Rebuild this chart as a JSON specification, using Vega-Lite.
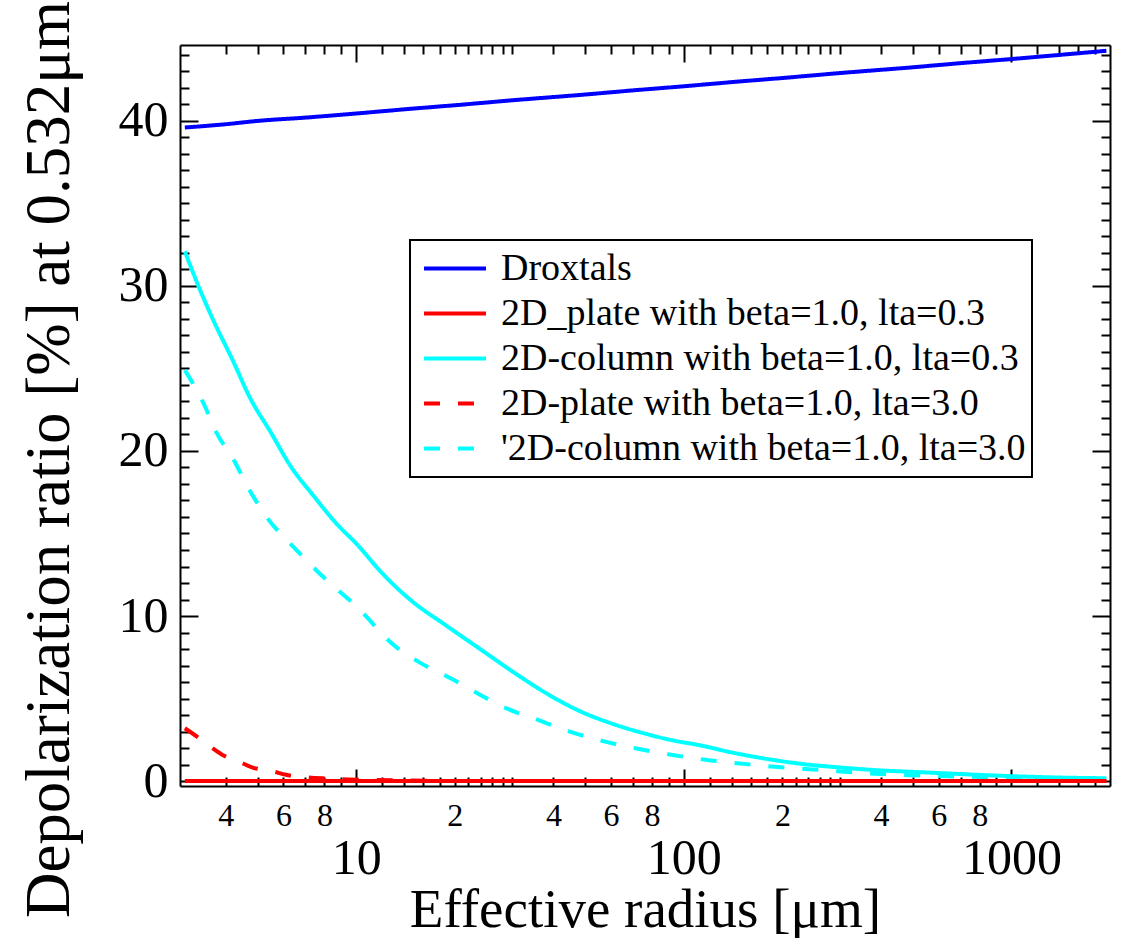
{
  "$schema": "https://vega.github.io/schema/vega-lite/v6.json",
  "width": 930,
  "height": 741,
  "autosize": {"type": "none"},
  "padding": {"left": 180, "top": 45, "right": 13, "bottom": 152},
  "background": "white",
  "config": {
    "view": {"stroke": null},
    "font": "Liberation Serif",
    "legend": {"strokeWidth": 2},
    "axis": {"grid": false, "domainColor": "black", "domainWidth": 2, "tickColor": "black", "tickWidth": 2, "labelColor": "black", "titleColor": "black", "labelFont": "Liberation Serif", "titleFont": "Liberation Serif", "labelFontWeight": "normal", "titleFontWeight": "normal"}
  },
  "data": {"values": [
    {"series": "'2D-column with beta=1.0, lta=3.0", "r": 3.0, "dep": 24.9},
    {"series": "'2D-column with beta=1.0, lta=3.0", "r": 3.42, "dep": 22.9},
    {"series": "'2D-column with beta=1.0, lta=3.0", "r": 3.75, "dep": 21.1},
    {"series": "'2D-column with beta=1.0, lta=3.0", "r": 4.22, "dep": 19.5},
    {"series": "'2D-column with beta=1.0, lta=3.0", "r": 4.69, "dep": 17.75},
    {"series": "'2D-column with beta=1.0, lta=3.0", "r": 5.33, "dep": 16.0},
    {"series": "'2D-column with beta=1.0, lta=3.0", "r": 6.5, "dep": 14.1},
    {"series": "'2D-column with beta=1.0, lta=3.0", "r": 8.0, "dep": 12.3},
    {"series": "'2D-column with beta=1.0, lta=3.0", "r": 10.0, "dep": 10.6},
    {"series": "'2D-column with beta=1.0, lta=3.0", "r": 13.1, "dep": 8.2},
    {"series": "'2D-column with beta=1.0, lta=3.0", "r": 15.7, "dep": 7.16},
    {"series": "'2D-column with beta=1.0, lta=3.0", "r": 19.3, "dep": 6.26},
    {"series": "'2D-column with beta=1.0, lta=3.0", "r": 23.3, "dep": 5.35},
    {"series": "'2D-column with beta=1.0, lta=3.0", "r": 28.5, "dep": 4.44},
    {"series": "'2D-column with beta=1.0, lta=3.0", "r": 35.6, "dep": 3.73},
    {"series": "'2D-column with beta=1.0, lta=3.0", "r": 44.4, "dep": 3.03},
    {"series": "'2D-column with beta=1.0, lta=3.0", "r": 56.7, "dep": 2.42},
    {"series": "'2D-column with beta=1.0, lta=3.0", "r": 72.4, "dep": 1.96},
    {"series": "'2D-column with beta=1.0, lta=3.0", "r": 93.6, "dep": 1.56},
    {"series": "'2D-column with beta=1.0, lta=3.0", "r": 121, "dep": 1.25},
    {"series": "'2D-column with beta=1.0, lta=3.0", "r": 158, "dep": 1.01},
    {"series": "'2D-column with beta=1.0, lta=3.0", "r": 207, "dep": 0.81},
    {"series": "'2D-column with beta=1.0, lta=3.0", "r": 271, "dep": 0.65},
    {"series": "'2D-column with beta=1.0, lta=3.0", "r": 364, "dep": 0.47},
    {"series": "'2D-column with beta=1.0, lta=3.0", "r": 490, "dep": 0.35},
    {"series": "'2D-column with beta=1.0, lta=3.0", "r": 700, "dep": 0.27},
    {"series": "'2D-column with beta=1.0, lta=3.0", "r": 1000, "dep": 0.2},
    {"series": "'2D-column with beta=1.0, lta=3.0", "r": 1400, "dep": 0.15},
    {"series": "'2D-column with beta=1.0, lta=3.0", "r": 1950, "dep": 0.12},
    {"series": "2D-plate with beta=1.0, lta=3.0", "r": 3.0, "dep": 3.2},
    {"series": "2D-plate with beta=1.0, lta=3.0", "r": 3.29, "dep": 2.65},
    {"series": "2D-plate with beta=1.0, lta=3.0", "r": 3.58, "dep": 2.1},
    {"series": "2D-plate with beta=1.0, lta=3.0", "r": 3.9, "dep": 1.6},
    {"series": "2D-plate with beta=1.0, lta=3.0", "r": 4.36, "dep": 1.2},
    {"series": "2D-plate with beta=1.0, lta=3.0", "r": 4.81, "dep": 0.83},
    {"series": "2D-plate with beta=1.0, lta=3.0", "r": 5.54, "dep": 0.6},
    {"series": "2D-plate with beta=1.0, lta=3.0", "r": 6.11, "dep": 0.38},
    {"series": "2D-plate with beta=1.0, lta=3.0", "r": 7.08, "dep": 0.22},
    {"series": "2D-plate with beta=1.0, lta=3.0", "r": 8.18, "dep": 0.15},
    {"series": "2D-plate with beta=1.0, lta=3.0", "r": 9.45, "dep": 0.1},
    {"series": "2D-plate with beta=1.0, lta=3.0", "r": 10.8, "dep": 0.07},
    {"series": "2D-plate with beta=1.0, lta=3.0", "r": 15, "dep": 0.03},
    {"series": "2D-plate with beta=1.0, lta=3.0", "r": 20, "dep": 0.0},
    {"series": "2D-plate with beta=1.0, lta=3.0", "r": 100, "dep": 0.0},
    {"series": "2D-plate with beta=1.0, lta=3.0", "r": 1000, "dep": 0.0},
    {"series": "2D-plate with beta=1.0, lta=3.0", "r": 1950, "dep": 0.0},
    {"series": "2D-column with beta=1.0, lta=0.3", "r": 3.0, "dep": 32.1},
    {"series": "2D-column with beta=1.0, lta=0.3", "r": 3.3, "dep": 30.0},
    {"series": "2D-column with beta=1.0, lta=0.3", "r": 3.65, "dep": 28.0},
    {"series": "2D-column with beta=1.0, lta=0.3", "r": 4.2, "dep": 25.5},
    {"series": "2D-column with beta=1.0, lta=0.3", "r": 4.75, "dep": 23.2},
    {"series": "2D-column with beta=1.0, lta=0.3", "r": 5.5, "dep": 21.1},
    {"series": "2D-column with beta=1.0, lta=0.3", "r": 6.3, "dep": 19.1},
    {"series": "2D-column with beta=1.0, lta=0.3", "r": 7.4, "dep": 17.3},
    {"series": "2D-column with beta=1.0, lta=0.3", "r": 8.8, "dep": 15.5},
    {"series": "2D-column with beta=1.0, lta=0.3", "r": 10, "dep": 14.4},
    {"series": "2D-column with beta=1.0, lta=0.3", "r": 12, "dep": 12.6},
    {"series": "2D-column with beta=1.0, lta=0.3", "r": 14.6, "dep": 11.0},
    {"series": "2D-column with beta=1.0, lta=0.3", "r": 18.9, "dep": 9.4},
    {"series": "2D-column with beta=1.0, lta=0.3", "r": 23.9, "dep": 8.0},
    {"series": "2D-column with beta=1.0, lta=0.3", "r": 30.2, "dep": 6.6},
    {"series": "2D-column with beta=1.0, lta=0.3", "r": 38.2, "dep": 5.3},
    {"series": "2D-column with beta=1.0, lta=0.3", "r": 48, "dep": 4.25},
    {"series": "2D-column with beta=1.0, lta=0.3", "r": 61, "dep": 3.45},
    {"series": "2D-column with beta=1.0, lta=0.3", "r": 77, "dep": 2.85},
    {"series": "2D-column with beta=1.0, lta=0.3", "r": 95, "dep": 2.42},
    {"series": "2D-column with beta=1.0, lta=0.3", "r": 110, "dep": 2.2},
    {"series": "2D-column with beta=1.0, lta=0.3", "r": 141, "dep": 1.72},
    {"series": "2D-column with beta=1.0, lta=0.3", "r": 182, "dep": 1.32},
    {"series": "2D-column with beta=1.0, lta=0.3", "r": 236, "dep": 1.01},
    {"series": "2D-column with beta=1.0, lta=0.3", "r": 305, "dep": 0.81},
    {"series": "2D-column with beta=1.0, lta=0.3", "r": 394, "dep": 0.65},
    {"series": "2D-column with beta=1.0, lta=0.3", "r": 509, "dep": 0.55},
    {"series": "2D-column with beta=1.0, lta=0.3", "r": 658, "dep": 0.45},
    {"series": "2D-column with beta=1.0, lta=0.3", "r": 850, "dep": 0.35},
    {"series": "2D-column with beta=1.0, lta=0.3", "r": 1100, "dep": 0.27},
    {"series": "2D-column with beta=1.0, lta=0.3", "r": 1420, "dep": 0.21},
    {"series": "2D-column with beta=1.0, lta=0.3", "r": 1950, "dep": 0.17},
    {"series": "2D_plate with beta=1.0, lta=0.3", "r": 3.0, "dep": 0.0},
    {"series": "2D_plate with beta=1.0, lta=0.3", "r": 10, "dep": 0.0},
    {"series": "2D_plate with beta=1.0, lta=0.3", "r": 100, "dep": 0.0},
    {"series": "2D_plate with beta=1.0, lta=0.3", "r": 1000, "dep": 0.0},
    {"series": "2D_plate with beta=1.0, lta=0.3", "r": 1950, "dep": 0.0},
    {"series": "Droxtals", "r": 3.0, "dep": 39.6},
    {"series": "Droxtals", "r": 4, "dep": 39.8},
    {"series": "Droxtals", "r": 5, "dep": 40.0},
    {"series": "Droxtals", "r": 7, "dep": 40.2},
    {"series": "Droxtals", "r": 10, "dep": 40.45},
    {"series": "Droxtals", "r": 15, "dep": 40.75},
    {"series": "Droxtals", "r": 20, "dep": 40.95},
    {"series": "Droxtals", "r": 30, "dep": 41.25},
    {"series": "Droxtals", "r": 50, "dep": 41.6},
    {"series": "Droxtals", "r": 70, "dep": 41.85},
    {"series": "Droxtals", "r": 100, "dep": 42.1},
    {"series": "Droxtals", "r": 150, "dep": 42.4},
    {"series": "Droxtals", "r": 200, "dep": 42.6},
    {"series": "Droxtals", "r": 300, "dep": 42.9},
    {"series": "Droxtals", "r": 500, "dep": 43.25},
    {"series": "Droxtals", "r": 700, "dep": 43.5},
    {"series": "Droxtals", "r": 1000, "dep": 43.75},
    {"series": "Droxtals", "r": 1500, "dep": 44.05},
    {"series": "Droxtals", "r": 1950, "dep": 44.25}
  ]},
  "layer": [
    {
      "mark": {"type": "line", "strokeWidth": 4, "clip": true, "interpolate": "monotone"},
      "encoding": {
        "x": {
          "field": "r", "type": "quantitative",
          "scale": {"type": "log", "domain": [2.9, 2000], "nice": false},
          "axis": {
            "orient": "bottom",
            "values": [4,5,6,7,8,9,10,12,14,16,18,20,22,24,26,28,30,40,50,60,70,80,90,100,120,140,160,180,200,220,240,260,280,300,400,500,600,700,800,900,1000,1200,1400,1600,1800],
            "labelExpr": "indexof([10,100,1000], datum.value) >= 0 ? toString(datum.value) : (indexof([4,6,8,20,40,60,80,200,400,600,800], datum.value) >= 0 ? substring(toString(datum.value), 0, 1) : '')",
            "labelFontSize": {"condition": {"test": "indexof([10,100,1000], datum.value) >= 0", "value": 50}, "value": 32},
            "labelPadding": {"condition": {"test": "indexof([10,100,1000], datum.value) >= 0", "value": 64}, "value": 23},
            "tickSize": {"condition": {"test": "indexof([10,100,1000], datum.value) >= 0", "value": -17}, "value": -9},
            "labelOverlap": false,
            "labelBound": false,
            "labelFlush": false,
            "title": "Effective radius [μm]",
            "titleFontSize": 55,
            "titleY": 140,
            "titleBaseline": "alphabetic"
          }
        },
        "y": {
          "field": "dep", "type": "quantitative",
          "scale": {"domain": [-0.3, 44.6], "nice": false, "zero": false},
          "axis": {
            "orient": "left",
            "values": [0,1,2,3,4,5,6,7,8,9,10,11,12,13,14,15,16,17,18,19,20,21,22,23,24,25,26,27,28,29,30,31,32,33,34,35,36,37,38,39,40,41,42,43,44],
            "labelExpr": "datum.value % 10 === 0 ? toString(datum.value) : ''",
            "tickSize": {"condition": {"test": "datum.value % 10 === 0", "value": -18}, "value": -9},
            "labelPadding": 30,
            "labelFontSize": 50,
            "labelOverlap": false,
            "labelBound": false,
            "labelFlush": false,
            "title": "Depolarization ratio [%] at 0.532μm",
            "titleFontSize": 63,
            "titleAngle": 270,
            "titleX": -112,
            "titleY": 414,
            "titleAlign": "center",
            "titleBaseline": "alphabetic"
          }
        },
        "color": {
          "field": "series", "type": "nominal",
          "scale": {
            "domain": ["Droxtals", "2D_plate with beta=1.0, lta=0.3", "2D-column with beta=1.0, lta=0.3", "2D-plate with beta=1.0, lta=3.0", "'2D-column with beta=1.0, lta=3.0"],
            "range": ["#0000ff", "#ff0000", "#00ffff", "#ff0000", "#00ffff"]
          },
          "legend": {
            "title": null, "orient": "none", "legendX": 230, "legendY": 195, "direction": "vertical",
            "strokeColor": "black", "fillColor": "white", "padding": 6,
            "labelFont": "Liberation Serif", "labelFontSize": 38, "labelColor": "black", "labelLimit": 0,
            "symbolType": "stroke", "symbolSize": 3844, "symbolStrokeWidth": 4, "symbolOffset": 6,
            "labelOffset": 13, "rowPadding": 0, "clipHeight": 45
          }
        },
        "strokeDash": {
          "field": "series", "type": "nominal",
          "scale": {
            "domain": ["Droxtals", "2D_plate with beta=1.0, lta=0.3", "2D-column with beta=1.0, lta=0.3", "2D-plate with beta=1.0, lta=3.0", "'2D-column with beta=1.0, lta=3.0"],
            "range": [[1, 0], [1, 0], [1, 0], [16, 18], [16, 18]]
          },
          "legend": {
            "title": null, "orient": "none", "legendX": 230, "legendY": 195, "direction": "vertical",
            "strokeColor": "black", "fillColor": "white", "padding": 6,
            "labelFont": "Liberation Serif", "labelFontSize": 38, "labelColor": "black", "labelLimit": 0,
            "symbolType": "stroke", "symbolSize": 3844, "symbolStrokeWidth": 4, "symbolOffset": 6,
            "labelOffset": 13, "rowPadding": 0, "clipHeight": 45
          }
        }
      }
    },
    {
      "mark": {"type": "line", "opacity": 0},
      "encoding": {
        "x": {
          "field": "r", "type": "quantitative",
          "scale": {"type": "log", "domain": [2.9, 2000], "nice": false},
          "axis": {
            "orient": "top",
            "values": [4,5,6,7,8,9,10,12,14,16,18,20,22,24,26,28,30,40,50,60,70,80,90,100,120,140,160,180,200,220,240,260,280,300,400,500,600,700,800,900,1000,1200,1400,1600,1800],
            "labels": false,
            "tickSize": {"condition": {"test": "indexof([10,100,1000], datum.value) >= 0", "value": -17}, "value": -9},
            "title": null
          }
        },
        "y": {
          "field": "dep", "type": "quantitative",
          "scale": {"domain": [-0.3, 44.6], "nice": false, "zero": false},
          "axis": {
            "orient": "right",
            "values": [0,1,2,3,4,5,6,7,8,9,10,11,12,13,14,15,16,17,18,19,20,21,22,23,24,25,26,27,28,29,30,31,32,33,34,35,36,37,38,39,40,41,42,43,44],
            "labels": false,
            "tickSize": {"condition": {"test": "datum.value % 10 === 0", "value": -18}, "value": -9},
            "title": null
          }
        }
      }
    }
  ]
}
